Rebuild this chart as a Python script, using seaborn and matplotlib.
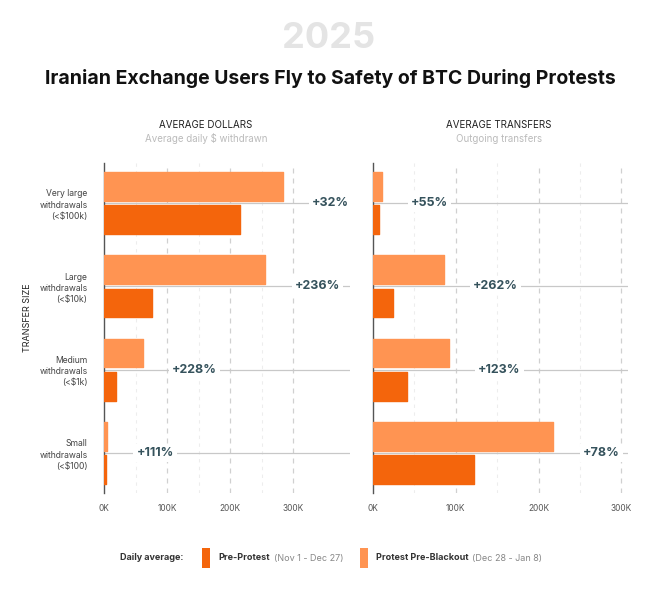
import pandas as pd
import seaborn as sns
import matplotlib.pyplot as plt
from matplotlib.patches import Rectangle
from matplotlib.ticker import FuncFormatter

# categories (top to bottom)
sizes = ["Very large\nwithdrawals\n(<$100k)", "Large\nwithdrawals\n(<$10k)",
         "Medium\nwithdrawals\n(<$1k)", "Small\nwithdrawals\n(<$100)"]

# average daily $ withdrawn
dollars_pre = [216000, 76000, 19000, 2400]
dollars_protest = [284000, 256000, 62000, 5100]
dollars_change = ["+32%", "+236%", "+228%", "+111%"]

# outgoing transfers
transfers_pre = [7000, 24000, 41000, 122000]
transfers_protest = [10900, 86000, 92000, 218000]
transfers_change = ["+55%", "+262%", "+123%", "+78%"]

PRE = "Pre-Protest"
PROTEST = "Protest Pre-Blackout"
palette = {PRE: "#F4650C", PROTEST: "#FF9452"}

sns.set_theme(style="white")
plt.rcParams["font.family"] = ["Inter", "DejaVu Sans"]

fig = plt.figure(figsize=(6.58, 6.0), dpi=100)
W, H = 658, 600


def px_axes(x0, x1, y0, y1):
    return fig.add_axes([x0 / W, 1 - y1 / H, (x1 - x0) / W, (y1 - y0) / H])


def panel(ax, pre, protest, change, xmax, major, minor, show_labels):
    df = pd.DataFrame({
        "size": sizes * 2,
        "value": list(protest) + list(pre),
        "period": [PROTEST] * 4 + [PRE] * 4,
    })
    sns.barplot(data=df, x="value", y="size", hue="period", orient="h",
                hue_order=[PROTEST, PRE], palette=palette, saturation=1,
                width=0.8, gap=0.14, legend=False, ax=ax, zorder=3)
    for p in ax.patches:
        p.set_edgecolor(p.get_facecolor())
        p.set_linewidth(1.0)
        p.set_joinstyle("round")
    ax.set_xlim(0, xmax)
    ax.set_ylim(3.48, -0.48)
    for x in major:
        ax.axvline(x, color="#D0D0D0", lw=0.9, ls=(0, (4, 4)), zorder=0)
    for x in minor:
        ax.axvline(x, color="#EDEDED", lw=0.8, ls=(0, (3, 4)), zorder=0)
    ax.set_xticks([0] + list(major))
    ax.xaxis.set_major_formatter(FuncFormatter(lambda v, _: f"{v / 1000:.0f}K"))
    ax.tick_params(axis="x", length=0, pad=8, labelsize=6, labelcolor="#555555")
    for i, (v, lab) in enumerate(zip(protest, change)):
        ax.axhline(i, color="#C8C8C8", lw=0.9, zorder=1)
        ax.annotate(lab, xy=(v, i), xytext=(21, 0), textcoords="offset points",
                    ha="left", va="center", fontsize=9, fontweight="bold",
                    color="#35525C", zorder=4,
                    bbox=dict(boxstyle="square,pad=0.25", fc="white", ec="none"))
    for s in ["top", "right", "bottom"]:
        ax.spines[s].set_visible(False)
    ax.spines["left"].set_color("#555555")
    ax.spines["left"].set_linewidth(1)
    ax.set_xlabel("")
    ax.set_ylabel("")
    if show_labels:
        ax.tick_params(axis="y", length=0, pad=12, labelsize=6.2, labelcolor="#444444")
        for t in ax.get_yticklabels():
            t.set_multialignment("right")
            t.set_linespacing(1.3)
    else:
        ax.set_yticklabels([])
        ax.tick_params(axis="y", length=0)


ax1 = px_axes(104, 350, 163, 493)
ax2 = px_axes(373, 628, 163, 493)
panel(ax1, dollars_pre, dollars_protest, dollars_change, 390000,
      [100000, 200000, 300000], [50000, 150000, 250000], True)
panel(ax2, transfers_pre, transfers_protest, transfers_change, 308000,
      [100000, 200000, 300000], [50000, 150000, 250000], False)

fig.text(329 / W, 1 - 38 / H, "2025", ha="center", va="center",
         fontsize=26, fontweight="bold", color="#E4E4E4")
fig.text(330 / W, 1 - 79 / H, "Iranian Exchange Users Fly to Safety of BTC During Protests",
         ha="center", va="center", fontsize=14, fontweight="bold", color="#111111")
fig.text(206 / W, 1 - 125 / H, "AVERAGE DOLLARS", ha="center", va="center",
         fontsize=7, color="#222222")
fig.text(206 / W, 1 - 139 / H, "Average daily $ withdrawn", ha="center", va="center",
         fontsize=7, color="#BBBBBB")
fig.text(499 / W, 1 - 125 / H, "AVERAGE TRANSFERS", ha="center", va="center",
         fontsize=7, color="#222222")
fig.text(499 / W, 1 - 139 / H, "Outgoing transfers", ha="center", va="center",
         fontsize=7, color="#BBBBBB")
fig.text(27 / W, 1 - 318 / H, "TRANSFER SIZE", ha="center", va="center",
         rotation=90, fontsize=6.5, color="#222222")

# legend row
ly = 1 - 558 / H
fig.text(183 / W, ly, "Daily average:", ha="right", va="center",
         fontsize=6.5, fontweight="bold", color="#333333")
renderer = fig.canvas.get_renderer()
x = 202
for name, dates in [(PRE, "(Nov 1 - Dec 27)"), (PROTEST, "(Dec 28 - Jan 8)")]:
    fig.patches.append(Rectangle((x / W, 1 - 568 / H), 8 / W, 20 / H,
                                 transform=fig.transFigure, fc=palette[name], ec="none"))
    x += 16
    t = fig.text(x / W, ly, name, ha="left", va="center", fontsize=6.5,
                 fontweight="bold", color="#333333")
    x = t.get_window_extent(renderer).x1 + 4
    t = fig.text(x / W, ly, dates, ha="left", va="center", fontsize=6.5, color="#888888")
    x = t.get_window_extent(renderer).x1 + 17

fig.savefig("out.png", dpi=100, facecolor="white")
